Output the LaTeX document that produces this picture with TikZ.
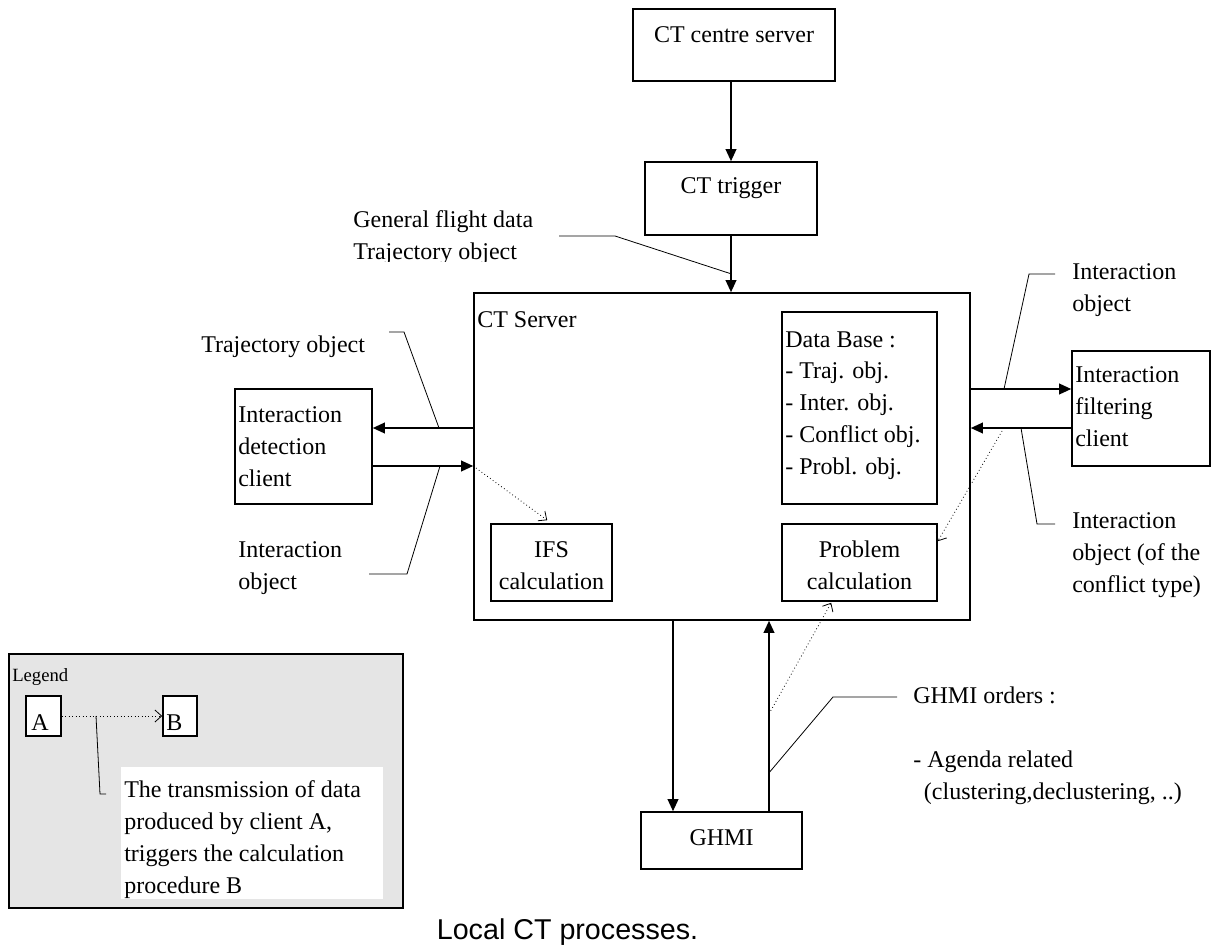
\documentclass[tikz,border=0pt]{standalone}
\usepackage{fontspec}
\setmainfont{Liberation Serif}
\newfontfamily\capfont{Liberation Sans}
\usetikzlibrary{arrows.meta,calc,fit}

\begin{document}
\begin{tikzpicture}[x=0.75pt,y=-0.75pt,
  box/.style={draw, line width=1.2pt, inner sep=0pt},
  txt/.style={font=\fontsize{18}{23.8}\selectfont, inner sep=0pt, align=left},
  ctxt/.style={font=\fontsize{18}{23.8}\selectfont, inner sep=0pt, align=center},
  flow/.style={line width=1.2pt, -{Triangle[length=9pt,width=8pt]}},
  lead/.style={line width=0.6pt},
  trig/.style={line width=0.6pt, dotted, -{Straight Barb[length=5pt,width=9pt]}},
]
\useasboundingbox (0,0) rectangle (1226,945);

% ---- boxes ----
\node[box, fit={(633,9)(835,81)}]     (ctcs) {};
\node[box, fit={(645,162)(817,235)}]  (ctt)  {};
\node[box, fit={(474,293)(970,620)}]  (srv)  {};
\node[box, fit={(782,312)(937,504)}]  (db)   {};
\node[box, fit={(491,524)(612,601)}]  (ifs)  {};
\node[box, fit={(782,524)(937,601)}]  (prob) {};
\node[box, fit={(235,389)(372,504)}]  (idc)  {};
\node[box, fit={(1072,351)(1210,466)}] (ifc) {};
\node[box, fit={(641,812)(802,869)}]  (ghmi) {};

% ---- box texts (multi-line nodes are placed by the baseline of their last line) ----
\node[ctxt, anchor=base] (ctcs-t) at (734,43) {CT centre server};
\node[ctxt, anchor=base] (ctt-t) at (731,193) {CT trigger};
\node[txt, anchor=base west] (srv-t) at (477,327) {CT Server};
\node[txt, anchor=base west] (db-t) at (785,474)
  {Data Base :\\- Traj. obj.\\- Inter. obj.\\- Conflict obj.\\- Probl. obj.};
\node[ctxt, anchor=base] (ifs-t) at (551.5,589) {IFS\\calculation};
\node[ctxt, anchor=base] (prob-t) at (859.5,589) {Problem\\calculation};
\node[txt, anchor=base west] (idc-t) at (238,486) {Interaction\\detection\\client};
\node[txt, anchor=base west] (ifc-t) at (1075,446) {Interaction\\filtering\\client};
\node[ctxt, anchor=base] (ghmi-t) at (721.5,845) {GHMI};

% ---- flows ----
\coordinate (yL1) at (0,428);
\coordinate (yL2) at (0,466);
\coordinate (yR1) at (0,389);
\coordinate (yR2) at (0,428);
\coordinate (xD) at (673,0);
\coordinate (xU) at (769,0);

\draw[flow] (ctcs.south -| ctt.north) -- (ctt.north);
\draw[flow] (ctt.south) -- (ctt.south |- srv.north);
\draw[flow] (srv.west |- yL1) -- (idc.east |- yL1);
\draw[flow] (idc.east |- yL2) -- (srv.west |- yL2);
\draw[flow] (srv.east |- yR1) -- (ifc.west |- yR1);
\draw[flow] (ifc.west |- yR2) -- (srv.east |- yR2);
\draw[flow] (srv.south -| xD) -- (ghmi.north -| xD);
\draw[flow] (ghmi.north -| xU) -- (srv.south -| xU);

% ---- calculation triggers ----
\draw[trig] (srv.west |- yL2) -- ($(ifs.north west)+(57,-3)$);
\draw[trig] ($(srv.east |- yR2)+(33,0)$) -- ($(prob.north east)+(0,18)$);
\draw[trig] ($(srv.south -| xU)+(0,93)$) -- ($(prob.south west)+(50,1)$);

% ---- annotations ----
\begin{scope}
  \clip (340,190) rectangle (560,261);
  \node[txt, anchor=base west] (gfd) at (353,259) {General flight data\\Trajectory object};
\end{scope}
\draw[lead] (559,236) -- (615,236) -- ($(ctt.south)+(0,38)$);

\node[txt, anchor=base west] (to-l) at (201,352) {Trajectory object};
\draw[lead] (389,332) -- (404,332) -- (439,428);

\node[txt, anchor=base west] (io-l) at (238,589) {Interaction\\object};
\draw[lead] (369,574) -- (407,574) -- (440,466);

\node[txt, anchor=base west] (io-r) at (1072,311) {Interaction\\object};
\draw[lead] (1055,274) -- (1029,274) -- (1004,389);

\node[txt, anchor=base west] (ioc-r) at (1072,592) {Interaction\\object (of the\\conflict type)};
\draw[lead] (1021,428) -- (1037,524) -- (1055,524);

\node[txt, anchor=base west] (go) at (913,703) {GHMI orders :};
\node[txt, anchor=base west] (go2) at (913,799) {- Agenda related\\\hspace*{8pt}(clustering,declustering, ..)};
\draw[lead] ($(srv.south -| xU)+(0,152)$) -- (833,697) -- (897,697);

% ---- legend ----
\node[box, fill=gray!20, fit={(9,654)(403,908)}] (leg) {};
\node[anchor=base west, font=\fontsize{14}{16}\selectfont, inner sep=0pt] (leg-t) at (12,681) {Legend};
\node[box, fill=white, fit={(26,696)(61,736)}] (la) {};
\node[box, fill=white, fit={(163,696)(197,736)}] (lb) {};
\node[txt, anchor=base west] (la-t) at (31,730) {A};
\node[txt, anchor=base west] (lb-t) at (166,730) {B};
\draw[trig] (la.east) -- (lb.west);
\draw[lead] (96,716) -- (100,794) -- (106,794);
\node[fill=white, inner sep=0pt, fit={(121,767)(383,899)}] (leg-note) {};
\begin{scope}
  \clip (121,767) rectangle (383,899);
  \node[txt, anchor=base west] (leg-nt) at (124,893)
    {The transmission of data\\produced by client A,\\triggers the calculation\\procedure B};
\end{scope}

% ---- caption ----
\node[font=\capfont\fontsize{21.5}{24}\selectfont, anchor=base, inner sep=0pt] (cap) at (567.5,939) {Local CT processes.};
\end{tikzpicture}
\end{document}
